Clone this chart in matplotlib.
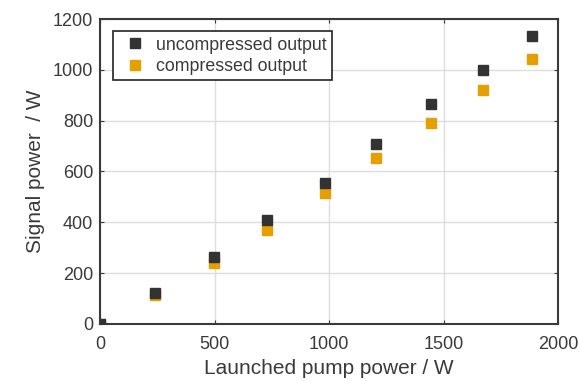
import matplotlib
matplotlib.use("Agg")
import matplotlib.pyplot as plt

plt.rcParams['font.family'] = ['Liberation Sans', 'DejaVu Sans']

pump = [0, 240, 495, 730, 980, 1205, 1445, 1670, 1885]
uncompressed = [0, 122, 262, 409, 553, 708, 864, 998, 1133]
compressed = [0, 112, 240, 370, 514, 652, 790, 920, 1042]

textColor = "#3a3a3a"

fig = plt.figure(figsize=(5.79, 3.81), dpi=100)
ax = fig.add_axes([0.173, 0.150, 0.791, 0.800])

ax.plot(pump, uncompressed, "s", color="#333333", markersize=7.5, label="uncompressed output", zorder=3)
ax.plot(pump, compressed, "s", color="#e69f00", markersize=7.5, label="compressed output", zorder=2)

ax.set_xlim(0, 2000)
ax.set_ylim(0, 1200)
ax.set_xticks([0, 500, 1000, 1500, 2000])
ax.set_yticks([0, 200, 400, 600, 800, 1000, 1200])
ax.grid(True, color="#dddddd", linewidth=1)
ax.set_axisbelow(True)
ax.tick_params(direction="in", length=3, labelsize=13, colors=textColor, top=True, right=True)
ax.tick_params(axis="x", pad=9)
ax.tick_params(axis="y", pad=5)
for spine in ax.spines.values():
	spine.set_linewidth(1.5)
	spine.set_color("#3a3a3a")

ax.set_xlabel("Launched pump power / W", fontsize=15, color=textColor, labelpad=4)
ax.set_ylabel("Signal power  / W", fontsize=15, color=textColor, labelpad=6)

leg = ax.legend(loc="upper left", fontsize=12.8, frameon=True, fancybox=False, framealpha=1,
	handletextpad=0.2, borderpad=0.3, labelspacing=0.25, handlelength=1.9,
	borderaxespad=0, bbox_to_anchor=(0.028, 0.96))
leg.get_frame().set_edgecolor("#222222")
leg.get_frame().set_linewidth(1.2)
for t in leg.get_texts():
	t.set_color(textColor)

fig.savefig("out.png", dpi=100)
